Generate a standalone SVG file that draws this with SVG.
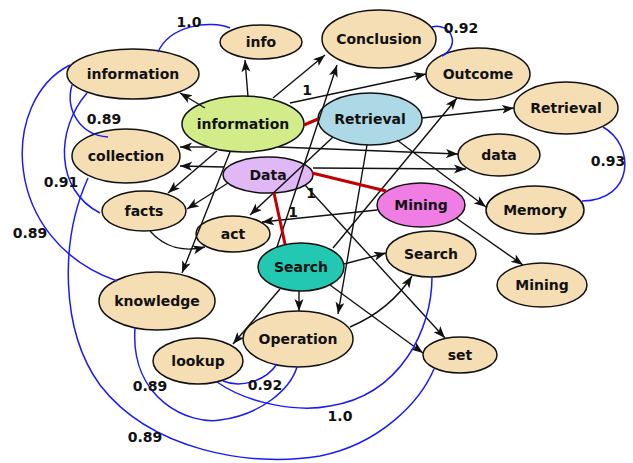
<svg xmlns="http://www.w3.org/2000/svg" width="633" height="463" viewBox="0 0 633 463">
<style>
.n{stroke:#111;stroke-width:1.5}
.b{fill:#f5deb3}
.t{font-family:"DejaVu Sans",sans-serif;font-weight:bold;font-size:14px;fill:#111;text-anchor:middle}
.e{stroke:#111;stroke-width:1.4;fill:none;marker-end:url(#ah)}
.r{stroke:#c00000;stroke-width:3;fill:none}
.s{stroke:#1a1aff;stroke-width:1.5;fill:none}
.l{font-family:"DejaVu Sans",sans-serif;font-weight:bold;font-size:14px;fill:#111;text-anchor:middle}
</style>
<defs>
<marker id="ah" markerUnits="userSpaceOnUse" markerWidth="13" markerHeight="10" refX="12" refY="4.5" orient="auto">
<path d="M0,0 L12,4.5 L0,9 L3,4.5 z" fill="#111"/>
</marker>
</defs>
<rect width="633" height="463" fill="#fff"/>
<g id="nodes">
<g id="n-info"><ellipse class="n b" cx="261" cy="42" rx="41" ry="17"/><text class="t" x="261" y="47">info</text></g>
<g id="n-information-b"><ellipse class="n b" cx="133" cy="74" rx="66" ry="25"/><text class="t" x="133" y="79">information</text></g>
<g id="n-information-g"><ellipse class="n" fill="#d2ec89" cx="243" cy="124" rx="61" ry="28"/><text class="t" x="243" y="129">information</text></g>
<g id="n-conclusion"><ellipse class="n b" cx="379" cy="39" rx="57" ry="29"/><text class="t" x="379" y="44">Conclusion</text></g>
<g id="n-outcome"><ellipse class="n b" cx="478" cy="74" rx="52" ry="26"/><text class="t" x="478" y="79">Outcome</text></g>
<g id="n-retrieval-c"><ellipse class="n" fill="#add8e6" cx="370" cy="119" rx="52" ry="26"/><text class="t" x="370" y="124">Retrieval</text></g>
<g id="n-retrieval-b"><ellipse class="n b" cx="566" cy="108" rx="52" ry="26"/><text class="t" x="566" y="113">Retrieval</text></g>
<g id="n-data-b"><ellipse class="n b" cx="499" cy="155" rx="41" ry="21"/><text class="t" x="499" y="160">data</text></g>
<g id="n-collection"><ellipse class="n b" cx="126" cy="156" rx="54" ry="27"/><text class="t" x="126" y="161">collection</text></g>
<g id="n-data-c"><ellipse class="n" fill="#e0b8f5" cx="268" cy="175" rx="45" ry="18"/><text class="t" x="268" y="180">Data</text></g>
<g id="n-mining-c"><ellipse class="n" fill="#f07de3" cx="421" cy="205" rx="44" ry="22"/><text class="t" x="421" y="210">Mining</text></g>
<g id="n-memory"><ellipse class="n b" cx="535" cy="210" rx="49" ry="24"/><text class="t" x="535" y="215">Memory</text></g>
<g id="n-facts"><ellipse class="n b" cx="144" cy="211" rx="42" ry="20"/><text class="t" x="144" y="216">facts</text></g>
<g id="n-act"><ellipse class="n b" cx="233" cy="234" rx="37" ry="18"/><text class="t" x="233" y="239">act</text></g>
<g id="n-search-c"><ellipse class="n" fill="#22c8b1" cx="301" cy="267" rx="43" ry="24"/><text class="t" x="301" y="272">Search</text></g>
<g id="n-search-b"><ellipse class="n b" cx="431" cy="254" rx="45" ry="23"/><text class="t" x="431" y="259">Search</text></g>
<g id="n-mining-b"><ellipse class="n b" cx="542" cy="285" rx="45" ry="22"/><text class="t" x="542" y="290">Mining</text></g>
<g id="n-knowledge"><ellipse class="n b" cx="157" cy="301" rx="58" ry="29"/><text class="t" x="157" y="306">knowledge</text></g>
<g id="n-operation"><ellipse class="n b" cx="298" cy="339" rx="55" ry="28"/><text class="t" x="298" y="344">Operation</text></g>
<g id="n-lookup"><ellipse class="n b" cx="198" cy="361" rx="45" ry="23"/><text class="t" x="198" y="366">lookup</text></g>
<g id="n-set"><ellipse class="n b" cx="460" cy="355" rx="37" ry="18"/><text class="t" x="460" y="360">set</text></g>
</g>
<g id="connectors">
<path class="e" d="M248,97 L245,60"/>
<path class="e" d="M205,108 L180,93"/>
<path class="e" d="M273,98 L325,55"/>
<path class="e" d="M277,247 L337,65"/>
<path class="e" d="M290,103 L426,74"/>
<path class="e" d="M333,248 L457,98"/>
<path class="e" d="M422,118 L514,108"/>
<path class="e" d="M278,147 L458,154"/>
<path class="e" d="M313,168 L466,169"/>
<path class="e" d="M208,147 L180,147"/>
<path class="e" d="M224,167 L180,166"/>
<path class="e" d="M217,151 L168,193"/>
<path class="e" d="M228,183 L187,209"/>
<path class="e" d="M333,137 L250,215"/>
<path class="e" d="M377,210 L262,222"/>
<path class="e" d="M150,231 C165,248 185,252 205,247"/>
<path class="e" d="M230,152 L182,273"/>
<path class="e" d="M344,264 L386,253"/>
<path class="e" d="M350,327 Q390,310 412,276"/>
<path class="e" d="M456,218 L523,265"/>
<path class="e" d="M397,140 L486,207"/>
<path class="e" d="M305,185 L445,338"/>
<path class="e" d="M330,285 L423,353"/>
<path class="e" d="M299,291 L299,311"/>
<path class="e" d="M367,145 L338,314"/>
<path class="e" d="M280,289 L233,344"/>
<path class="r" d="M304,125 L318,119"/>
<path class="r" d="M312,173 L386,191"/>
<path class="r" d="M274,193 L285,244"/>
<path class="s" d="M230,28 C210,20 170,25 158,52"/>
<path class="s" d="M72,85 C65,110 80,135 108,137"/>
<path class="s" d="M87,93 C55,130 55,190 100,213"/>
<path class="s" d="M70,65 C0,100 0,240 117,281"/>
<path class="s" d="M88,178 C60,240 60,330 100,385 C150,450 250,468 320,456 C380,444 420,402 434,369"/>
<path class="s" d="M135,328 C130,400 190,425 220,420 C260,415 290,390 297,367"/>
<path class="s" d="M223,381 C240,388 265,382 277,364"/>
<path class="s" d="M217,382 C250,405 300,412 330,406 C400,395 432,330 432,277"/>
<path class="s" d="M432,27 C450,22 462,45 442,56"/>
<path class="s" d="M603,127 C635,145 635,200 582,201"/>
<text class="l" x="307" y="95">1</text>
<text class="l" x="311" y="198">1</text>
<text class="l" x="293" y="217">1</text>
<text class="l" x="189" y="27">1.0</text>
<text class="l" x="104" y="124">0.89</text>
<text class="l" x="61" y="187">0.91</text>
<text class="l" x="30" y="238">0.89</text>
<text class="l" x="145" y="442">0.89</text>
<text class="l" x="150" y="391">0.89</text>
<text class="l" x="265" y="390">0.92</text>
<text class="l" x="340" y="421">1.0</text>
<text class="l" x="461" y="33">0.92</text>
<text class="l" x="608" y="166">0.93</text>
</g>
</svg>
